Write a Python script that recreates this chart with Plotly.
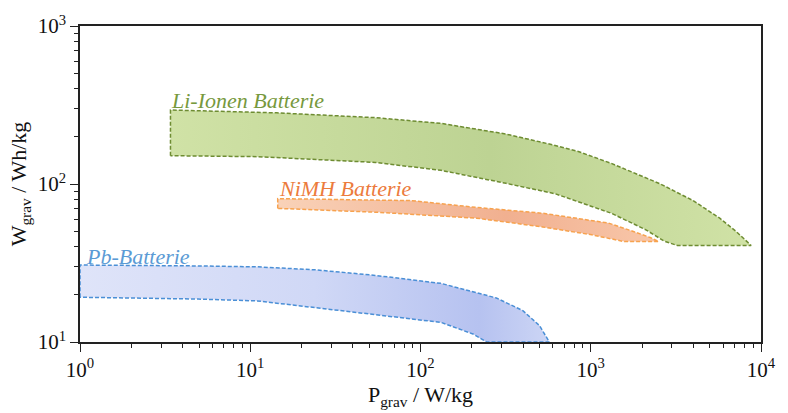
import math
import plotly.graph_objects as go

# ---- data ----
li_x = [3.4, 3.4, 14.3, 54.2, 132, 318, 571, 853, 1321, 2570, 3990, 5720, 7170, 8750,
        3226, 2700, 2108, 1321, 619, 318, 132, 54.2, 11, 3.4]
li_y = [151, 294, 282, 263, 242, 207, 179, 160, 135, 100, 78.5, 60.8, 49.9, 40.8,
        40.8, 43.5, 51.3, 65.3, 86.7, 101, 122, 137, 149, 151]

ni_x = [14.5, 14.5, 88.7, 213, 521, 1271, 1796, 2252, 2506,
        1574, 1013, 521, 213, 56.4, 14.5]
ni_y = [70.1, 80.8, 78.5, 71.1, 65.3, 56.6, 49.9, 45.7, 43.2,
        43.2, 47.7, 53.5, 60.8, 66.2, 70.1]

pb_x = [1, 1, 4.94, 11, 24.4, 54.2, 132, 279, 399, 500, 571,
        244, 205, 132, 54.2, 11, 4.94, 1]
pb_y = [19.2, 30.7, 30.3, 29.9, 28.6, 26.4, 23.5, 19.0, 15.8, 12.7, 10,
        10, 11.2, 13.3, 14.9, 18.2, 18.7, 19.2]

x_major = [1, 10, 100, 1000, 10000]
x_labels = ["10<sup>0</sup>", "10<sup>1</sup>", "10<sup>2</sup>", "10<sup>3</sup>", "10<sup>4</sup>"]
y_major = [10, 100, 1000]
y_labels = ["10<sup>1</sup>", "10<sup>2</sup>", "10<sup>3</sup>"]
x_minor = [m * d for d in [1, 10, 100, 1000] for m in range(2, 10)]
y_minor = [m * d for d in [10, 100] for m in range(2, 10)]

labels = [
    ("Li-Ionen Batterie", 3.35, 340, "#77993d"),
    ("NiMH Batterie", 14.3, 94.0, "#ec7b3c"),
    ("Pb-Batterie", 1.05, 34.9, "#5b9bd5"),
]

FONT = "Liberation Serif"

fig = go.Figure()

fig.add_trace(go.Scatter(
    x=li_x, y=li_y, mode="lines", fill="toself",
    line=dict(color="#6e8c32", width=1.5, dash="4px,2px"),
    fillgradient=dict(type="horizontal",
                      colorscale=[[0, "#d0e2a6"], [0.55, "#bdd393"], [1, "#d0e2a6"]]),
    hoverinfo="skip", showlegend=False))

fig.add_trace(go.Scatter(
    x=ni_x, y=ni_y, mode="lines", fill="toself",
    line=dict(color="#f7a24e", width=1.5, dash="4px,2px"),
    fillgradient=dict(type="horizontal",
                      colorscale=[[0, "#f9d2b8"], [0.6, "#f1b090"], [1, "#f8c7aa"]]),
    hoverinfo="skip", showlegend=False))

fig.add_trace(go.Scatter(
    x=pb_x, y=pb_y, mode="lines", fill="toself",
    line=dict(color="#4a8fd6", width=1.5, dash="4px,2px"),
    fillgradient=dict(type="horizontal",
                      colorscale=[[0, "#dfe4f9"], [0.5, "#d0d8f6"], [0.85, "#b6c2f0"], [1, "#ccd5f5"]]),
    hoverinfo="skip", showlegend=False))

for txt, x, y, c in labels:
    fig.add_annotation(x=math.log10(x), y=math.log10(y), xref="x", yref="y",
                       text="<i>" + txt + "</i>",
                       showarrow=False, xanchor="left", yanchor="middle",
                       font=dict(family=FONT, size=22, color=c))

axis_common = dict(
    type="log", showgrid=False, zeroline=False,
    showline=True, linecolor="#222", linewidth=1.5, mirror=True,
    ticks="outside", ticklen=8, tickwidth=1.2, tickcolor="#222",
    tickfont=dict(family=FONT, size=21, color="#111"),
)

fig.update_xaxes(
    **axis_common, range=[0, 4], tickvals=x_major, ticktext=x_labels,
    minor=dict(tickvals=x_minor, ticks="outside", ticklen=4, tickwidth=1.2, tickcolor="#222", showgrid=False),
    title=dict(text="P<sub>grav</sub> / W/kg", font=dict(family=FONT, size=22, color="#111"), standoff=4),
)
fig.update_yaxes(
    **axis_common, range=[1, 3], tickvals=y_major, ticktext=y_labels,
    minor=dict(tickvals=y_minor, ticks="outside", ticklen=4, tickwidth=1.2, tickcolor="#222", showgrid=False),
    title=dict(text="W<sub>grav</sub> / Wh/kg", font=dict(family=FONT, size=22, color="#111"), standoff=5),
)

fig.update_layout(
    width=788, height=413,
    margin=dict(l=80, r=16, t=21, b=68),
    paper_bgcolor="white", plot_bgcolor="white",
)

fig.write_html("out.html")
